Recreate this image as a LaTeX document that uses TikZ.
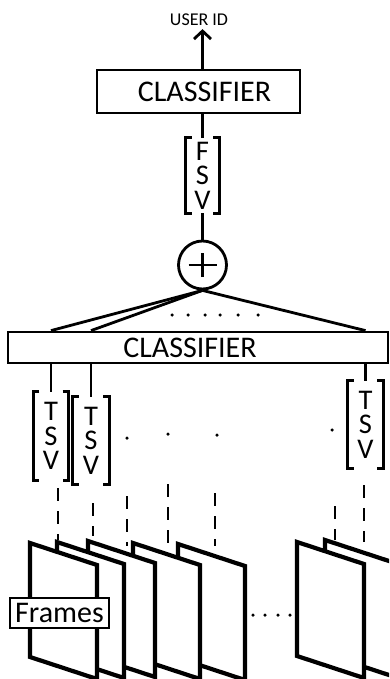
\documentclass[tikz,border=0pt]{standalone}
\usepackage{fontspec}
\setmainfont{Carlito}
\usetikzlibrary{arrows.meta}
% square brackets round a vector node
\newcommand\vecbrackets[1]{%
  \draw[wire] ([xshift=6pt]#1.north west) -- (#1.north west) -- (#1.south west) -- ([xshift=6pt]#1.south west);
  \draw[wire] ([xshift=-6pt]#1.north east) -- (#1.north east) -- (#1.south east) -- ([xshift=-6pt]#1.south east);}
% three stacked letters inside a vector node, top to bottom
\newcommand\vecletters[4]{%
  \node[vecletter] (#1-a) at ([yshift=24.5pt]#1.center) {#2};
  \node[vecletter] (#1-b) at (#1.center) {#3};
  \node[vecletter] (#1-c) at ([yshift=-24.5pt]#1.center) {#4};}
\begin{document}
\begin{tikzpicture}[x=1pt,y=-1pt,
  wire/.style={line width=2.8pt},
  clsbox/.style={draw, line width=2.8pt, inner sep=0pt},
  clsfont/.style={font=\fontsize{30}{32}\selectfont, inner sep=0pt},
  vecnode/.style={inner sep=0pt},
  vecletter/.style={inner sep=0pt, font=\fontsize{28.5}{30}\selectfont},
  tinydot/.style={fill, circle, inner sep=0pt, minimum size=3.5pt},
  frame/.style={draw, fill=white, line width=4.2pt, line join=miter},
  dashwire/.style={line width=2.6pt, dash pattern=on 13pt off 10pt}]
\useasboundingbox (0,0) rectangle (389,679);
\clip (0,0) rectangle (389,679);

% output label and top classifier
\node[font=\fontsize{18}{20}\selectfont, inner sep=0pt] (uid) at (199,20) {USER ID};
\node[clsbox, minimum width=203pt, minimum height=43pt] (cls1) at (198.5,91.5) {};
\node[clsfont] (cls1label) at (204.5,92) {CLASSIFIER};

% fused score vector
\node[vecnode, minimum width=33pt, minimum height=75pt] (fsv) at (202.5,175.5) {};
\vecletters{fsv}{F}{S}{V}
\vecbrackets{fsv}

% summation node
\node[draw, circle, line width=2.8pt, minimum size=48pt, inner sep=0pt] (sum) at (202.5,265) {};
\draw[wire] ([xshift=-14pt]sum.center) -- ([xshift=14pt]sum.center);
\draw[wire] ([yshift=-12pt]sum.center) -- ([yshift=12pt]sum.center);

\draw[wire, -{Straight Barb[length=8pt, width=17pt, line width=2.8pt]}] (cls1.north -| fsv.north) -- ([yshift=-3pt]uid.south -| fsv.north);
\draw[wire] (cls1.south -| fsv.north) -- (fsv.north);
\draw[wire] (fsv.south) -- (sum.north);

% lower classifier
\node[clsbox, minimum width=380pt, minimum height=31pt] (cls2) at (198,347.5) {};
\node[clsfont] (cls2label) at (190,348) {CLASSIFIER};

% temporal score vectors
\node[vecnode, minimum width=35pt, minimum height=88pt] (tsv1) at (51,436) {};
\node[vecnode, minimum width=36pt, minimum height=87pt] (tsv2) at (91,440.5) {};
\node[vecnode, minimum width=35pt, minimum height=87pt] (tsv3) at (365.5,424.5) {};
\foreach \t in {tsv1,tsv2,tsv3}{
  \vecletters{\t}{T}{S}{V}
  \vecbrackets{\t}
  \draw[wire] (sum.south) -- (cls2.north -| \t.north);
  \draw[wire] (cls2.south -| \t.north) -- (\t.north);
}

% ellipsis dots
\foreach \x in {172,188,205,220,238,258} \node[tinydot] (fd\x) at (\x,315) {};
\node[tinydot] (td1) at (127,438) {};
\node[tinydot] (td2) at (168,434) {};
\node[tinydot] (td3) at (217,435) {};
\node[tinydot] (td4) at (332,430) {};
\foreach \x in {253,265,278,290,307,323} \node[tinydot] (bd\x) at (\x,615) {};

% dashed links down to the frames
\foreach \x/\a/\b [count=\i] in {58/488/540, 93/503/536, 127/496/546, 168/484/543, 215/493/546, 335/506/540, 364/485/542}{
  \coordinate (dtop\i) at (\x,\a);
  \coordinate (dbot\i) at (\x,\b);
  \draw[dashwire] (dtop\i) -- (dbot\i);
}

% video frames, back to front
\foreach \x/\y in {178/544, 133/543, 88/541, 57/542, 30/543, 325/540, 297/542}{
  \draw[frame] (\x,\y) -- ++(67,22) -- ++(0,114) -- ++(-67,-22) -- cycle;
}

\node[draw, fill=white, line width=1.8pt, minimum width=99pt, minimum height=30pt, inner sep=0pt,
      font=\fontsize{30}{30}\selectfont] (frames) at (59.5,613) {Frames};
\end{tikzpicture}
\end{document}
